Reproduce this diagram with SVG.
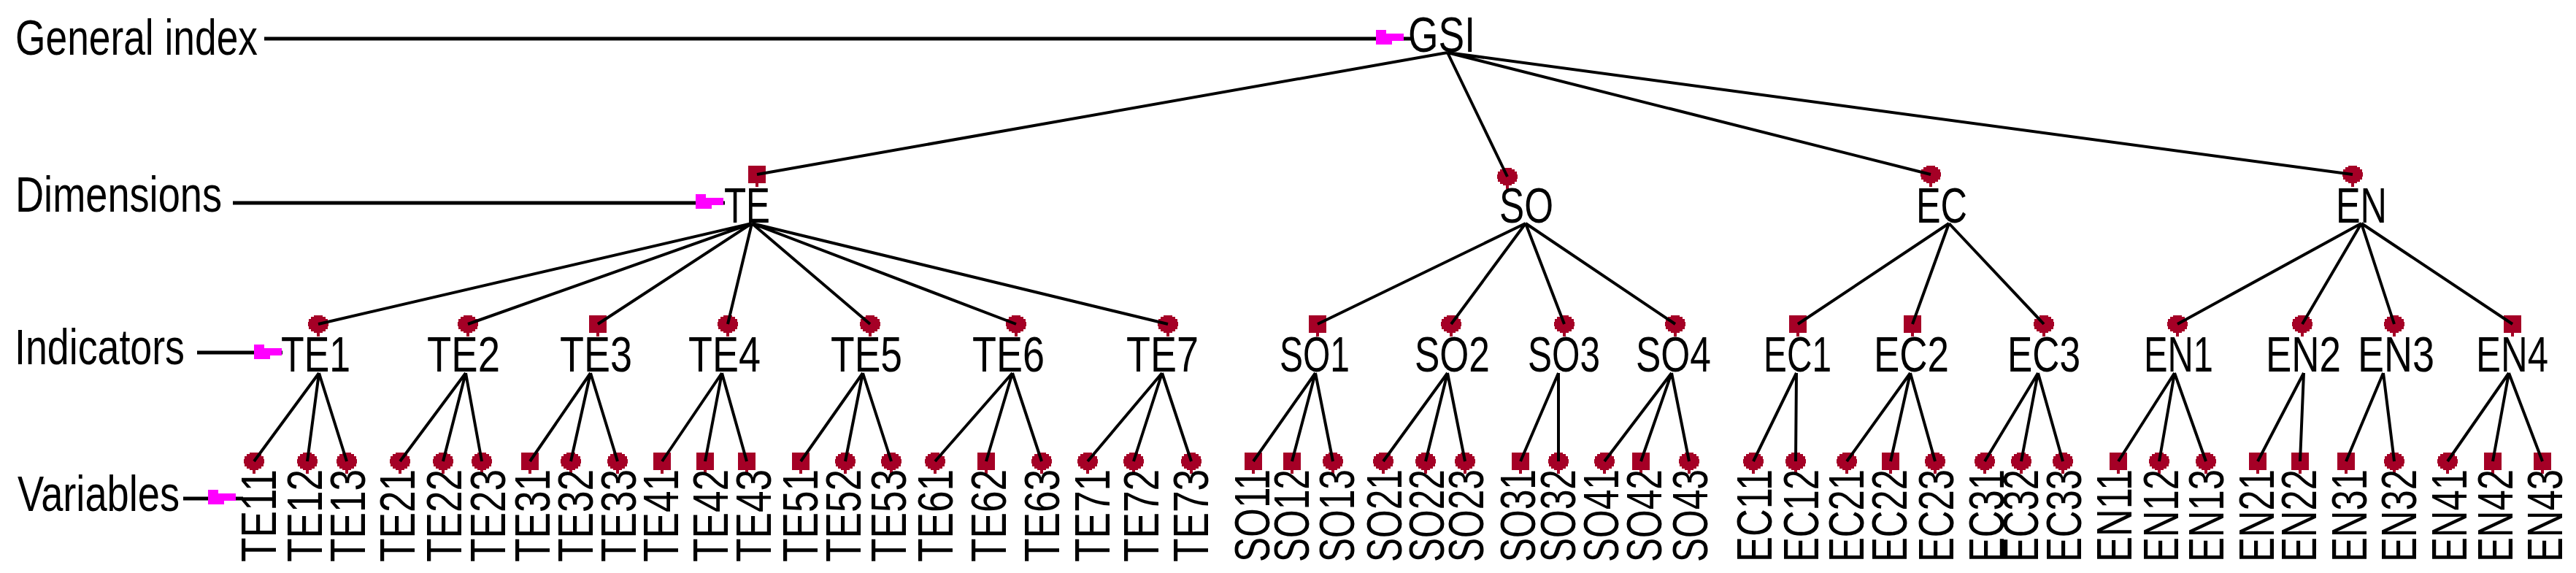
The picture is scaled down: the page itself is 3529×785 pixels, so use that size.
<svg xmlns="http://www.w3.org/2000/svg" width="3529" height="785" viewBox="0 0 3529 785">
<style>
.t{font-family:"Liberation Sans",Arial,sans-serif;font-size:69px;fill:#000}
.m{fill:#A50026}
.c{stroke:#000;stroke-width:4;fill:none}
.l{stroke:#000;stroke-width:5;fill:none}
.f{fill:#FF00FF}
</style>
<defs>
<path id="mr" d="M-6,-12 H6 V-10 H10 V-7 H13 V-3 H14 V3 H13 V7 H10 V10 H6 V12 H2 V17 H-2 V12 H-6 V10 H-10 V7 H-13 V3 H-14 V-3 H-13 V-7 H-10 V-10 H-6 Z"/>
<path id="ms" d="M-12,-12 H12 V12 H2 V17 H-2 V12 H-12 Z"/>
<path id="fl" d="M0,0 H14 V5 H38 V15 H22 V20 H0 Z"/>
</defs>
<rect width="3529" height="785" fill="#fff"/>

<g id="labels">
<text class="t" x="21" y="75" textLength="332" lengthAdjust="spacingAndGlyphs">General index</text>
<text class="t" x="21" y="290" textLength="283" lengthAdjust="spacingAndGlyphs">Dimensions</text>
<text class="t" x="20" y="499" textLength="233" lengthAdjust="spacingAndGlyphs">Indicators</text>
<text class="t" x="24" y="700" textLength="222" lengthAdjust="spacingAndGlyphs">Variables</text>
</g>

<g id="nodes">
<g id="GSI"><text class="t" x="1929" y="71" textLength="92" lengthAdjust="spacingAndGlyphs">GSI</text></g>
<g id="TE"><use href="#ms" class="m" x="1037" y="239"/><text class="t" x="992" y="305" textLength="63" lengthAdjust="spacingAndGlyphs">TE</text></g>
<g id="SO"><use href="#mr" class="m" x="2065" y="242"/><text class="t" x="2054" y="305" textLength="74" lengthAdjust="spacingAndGlyphs">SO</text></g>
<g id="EC"><use href="#mr" class="m" x="2645" y="239"/><text class="t" x="2625" y="305" textLength="70" lengthAdjust="spacingAndGlyphs">EC</text></g>
<g id="EN"><use href="#mr" class="m" x="3223" y="239"/><text class="t" x="3200" y="305" textLength="70" lengthAdjust="spacingAndGlyphs">EN</text></g>

<g id="TE1"><use href="#mr" class="m" x="436" y="444"/><text class="t" x="385" y="509" textLength="95" lengthAdjust="spacingAndGlyphs">TE1</text></g>
<g id="TE2"><use href="#mr" class="m" x="641" y="444"/><text class="t" x="585" y="509" textLength="100" lengthAdjust="spacingAndGlyphs">TE2</text></g>
<g id="TE3"><use href="#ms" class="m" x="819" y="444"/><text class="t" x="767" y="509" textLength="99" lengthAdjust="spacingAndGlyphs">TE3</text></g>
<g id="TE4"><use href="#mr" class="m" x="997" y="444"/><text class="t" x="943" y="509" textLength="99" lengthAdjust="spacingAndGlyphs">TE4</text></g>
<g id="TE5"><use href="#mr" class="m" x="1192" y="444"/><text class="t" x="1138" y="509" textLength="98" lengthAdjust="spacingAndGlyphs">TE5</text></g>
<g id="TE6"><use href="#mr" class="m" x="1392" y="444"/><text class="t" x="1332" y="509" textLength="99" lengthAdjust="spacingAndGlyphs">TE6</text></g>
<g id="TE7"><use href="#mr" class="m" x="1600" y="444"/><text class="t" x="1543" y="509" textLength="99" lengthAdjust="spacingAndGlyphs">TE7</text></g>
<g id="SO1"><use href="#ms" class="m" x="1805" y="444"/><text class="t" x="1753" y="509" textLength="96" lengthAdjust="spacingAndGlyphs">SO1</text></g>
<g id="SO2"><use href="#mr" class="m" x="1988" y="444"/><text class="t" x="1938" y="509" textLength="103" lengthAdjust="spacingAndGlyphs">SO2</text></g>
<g id="SO3"><use href="#mr" class="m" x="2143" y="444"/><text class="t" x="2093" y="509" textLength="99" lengthAdjust="spacingAndGlyphs">SO3</text></g>
<g id="SO4"><use href="#mr" class="m" x="2295" y="444"/><text class="t" x="2241" y="509" textLength="103" lengthAdjust="spacingAndGlyphs">SO4</text></g>
<g id="EC1"><use href="#ms" class="m" x="2463" y="444"/><text class="t" x="2416" y="509" textLength="93" lengthAdjust="spacingAndGlyphs">EC1</text></g>
<g id="EC2"><use href="#ms" class="m" x="2620" y="444"/><text class="t" x="2567" y="509" textLength="103" lengthAdjust="spacingAndGlyphs">EC2</text></g>
<g id="EC3"><use href="#mr" class="m" x="2800" y="444"/><text class="t" x="2750" y="509" textLength="100" lengthAdjust="spacingAndGlyphs">EC3</text></g>
<g id="EN1"><use href="#mr" class="m" x="2983" y="444"/><text class="t" x="2937" y="509" textLength="95" lengthAdjust="spacingAndGlyphs">EN1</text></g>
<g id="EN2"><use href="#mr" class="m" x="3154" y="444"/><text class="t" x="3104" y="509" textLength="103" lengthAdjust="spacingAndGlyphs">EN2</text></g>
<g id="EN3"><use href="#mr" class="m" x="3280" y="444"/><text class="t" x="3230" y="509" textLength="105" lengthAdjust="spacingAndGlyphs">EN3</text></g>
<g id="EN4"><use href="#ms" class="m" x="3442" y="444"/><text class="t" x="3392" y="509" textLength="99" lengthAdjust="spacingAndGlyphs">EN4</text></g>

<g id="TE11"><use href="#mr" class="m" x="348" y="632"/><text class="t" transform="translate(378,770) rotate(-90)" textLength="127" lengthAdjust="spacingAndGlyphs">TE11</text></g>
<g id="TE12"><use href="#mr" class="m" x="421" y="632"/><text class="t" transform="translate(441,770) rotate(-90)" textLength="127" lengthAdjust="spacingAndGlyphs">TE12</text></g>
<g id="TE13"><use href="#mr" class="m" x="475" y="632"/><text class="t" transform="translate(500,770) rotate(-90)" textLength="127" lengthAdjust="spacingAndGlyphs">TE13</text></g>
<g id="TE21"><use href="#mr" class="m" x="548" y="632"/><text class="t" transform="translate(568,770) rotate(-90)" textLength="127" lengthAdjust="spacingAndGlyphs">TE21</text></g>
<g id="TE22"><use href="#mr" class="m" x="607" y="632"/><text class="t" transform="translate(632,770) rotate(-90)" textLength="127" lengthAdjust="spacingAndGlyphs">TE22</text></g>
<g id="TE23"><use href="#mr" class="m" x="660" y="632"/><text class="t" transform="translate(692,770) rotate(-90)" textLength="127" lengthAdjust="spacingAndGlyphs">TE23</text></g>
<g id="TE31"><use href="#ms" class="m" x="726" y="632"/><text class="t" transform="translate(753,770) rotate(-90)" textLength="127" lengthAdjust="spacingAndGlyphs">TE31</text></g>
<g id="TE32"><use href="#mr" class="m" x="782" y="632"/><text class="t" transform="translate(812,770) rotate(-90)" textLength="127" lengthAdjust="spacingAndGlyphs">TE32</text></g>
<g id="TE33"><use href="#mr" class="m" x="846" y="632"/><text class="t" transform="translate(871,770) rotate(-90)" textLength="127" lengthAdjust="spacingAndGlyphs">TE33</text></g>
<g id="TE41"><use href="#ms" class="m" x="907" y="632"/><text class="t" transform="translate(929,770) rotate(-90)" textLength="127" lengthAdjust="spacingAndGlyphs">TE41</text></g>
<g id="TE42"><use href="#ms" class="m" x="966" y="632"/><text class="t" transform="translate(997,770) rotate(-90)" textLength="127" lengthAdjust="spacingAndGlyphs">TE42</text></g>
<g id="TE43"><use href="#ms" class="m" x="1023" y="632"/><text class="t" transform="translate(1056,770) rotate(-90)" textLength="127" lengthAdjust="spacingAndGlyphs">TE43</text></g>
<g id="TE51"><use href="#ms" class="m" x="1097" y="632"/><text class="t" transform="translate(1120,770) rotate(-90)" textLength="127" lengthAdjust="spacingAndGlyphs">TE51</text></g>
<g id="TE52"><use href="#mr" class="m" x="1158" y="632"/><text class="t" transform="translate(1179,770) rotate(-90)" textLength="127" lengthAdjust="spacingAndGlyphs">TE52</text></g>
<g id="TE53"><use href="#mr" class="m" x="1221" y="632"/><text class="t" transform="translate(1241,770) rotate(-90)" textLength="127" lengthAdjust="spacingAndGlyphs">TE53</text></g>
<g id="TE61"><use href="#mr" class="m" x="1281" y="632"/><text class="t" transform="translate(1305,770) rotate(-90)" textLength="127" lengthAdjust="spacingAndGlyphs">TE61</text></g>
<g id="TE62"><use href="#ms" class="m" x="1351" y="632"/><text class="t" transform="translate(1378,770) rotate(-90)" textLength="127" lengthAdjust="spacingAndGlyphs">TE62</text></g>
<g id="TE63"><use href="#mr" class="m" x="1427" y="632"/><text class="t" transform="translate(1451,770) rotate(-90)" textLength="127" lengthAdjust="spacingAndGlyphs">TE63</text></g>
<g id="TE71"><use href="#mr" class="m" x="1490" y="632"/><text class="t" transform="translate(1520,770) rotate(-90)" textLength="127" lengthAdjust="spacingAndGlyphs">TE71</text></g>
<g id="TE72"><use href="#mr" class="m" x="1553" y="632"/><text class="t" transform="translate(1587,770) rotate(-90)" textLength="127" lengthAdjust="spacingAndGlyphs">TE72</text></g>
<g id="TE73"><use href="#mr" class="m" x="1632" y="632"/><text class="t" transform="translate(1655,770) rotate(-90)" textLength="127" lengthAdjust="spacingAndGlyphs">TE73</text></g>
<g id="SO11"><use href="#ms" class="m" x="1717" y="632"/><text class="t" transform="translate(1739,770) rotate(-90)" textLength="127" lengthAdjust="spacingAndGlyphs">SO11</text></g>
<g id="SO12"><use href="#ms" class="m" x="1770" y="632"/><text class="t" transform="translate(1793,770) rotate(-90)" textLength="127" lengthAdjust="spacingAndGlyphs">SO12</text></g>
<g id="SO13"><use href="#mr" class="m" x="1826" y="632"/><text class="t" transform="translate(1855,770) rotate(-90)" textLength="127" lengthAdjust="spacingAndGlyphs">SO13</text></g>
<g id="SO21"><use href="#mr" class="m" x="1895" y="632"/><text class="t" transform="translate(1920,770) rotate(-90)" textLength="127" lengthAdjust="spacingAndGlyphs">SO21</text></g>
<g id="SO22"><use href="#mr" class="m" x="1953" y="632"/><text class="t" transform="translate(1978,770) rotate(-90)" textLength="127" lengthAdjust="spacingAndGlyphs">SO22</text></g>
<g id="SO23"><use href="#mr" class="m" x="2007" y="632"/><text class="t" transform="translate(2032,770) rotate(-90)" textLength="127" lengthAdjust="spacingAndGlyphs">SO23</text></g>
<g id="SO31"><use href="#ms" class="m" x="2083" y="632"/><text class="t" transform="translate(2103,770) rotate(-90)" textLength="127" lengthAdjust="spacingAndGlyphs">SO31</text></g>
<g id="SO32"><use href="#mr" class="m" x="2135" y="632"/><text class="t" transform="translate(2158,770) rotate(-90)" textLength="127" lengthAdjust="spacingAndGlyphs">SO32</text></g>
<g id="SO41"><use href="#mr" class="m" x="2198" y="632"/><text class="t" transform="translate(2217,770) rotate(-90)" textLength="127" lengthAdjust="spacingAndGlyphs">SO41</text></g>
<g id="SO42"><use href="#ms" class="m" x="2248" y="632"/><text class="t" transform="translate(2276,770) rotate(-90)" textLength="127" lengthAdjust="spacingAndGlyphs">SO42</text></g>
<g id="SO43"><use href="#mr" class="m" x="2314" y="632"/><text class="t" transform="translate(2339,770) rotate(-90)" textLength="127" lengthAdjust="spacingAndGlyphs">SO43</text></g>
<g id="EC11"><use href="#mr" class="m" x="2402" y="632"/><text class="t" transform="translate(2427,770) rotate(-90)" textLength="127" lengthAdjust="spacingAndGlyphs">EC11</text></g>
<g id="EC12"><use href="#mr" class="m" x="2460" y="632"/><text class="t" transform="translate(2491,770) rotate(-90)" textLength="127" lengthAdjust="spacingAndGlyphs">EC12</text></g>
<g id="EC21"><use href="#mr" class="m" x="2530" y="632"/><text class="t" transform="translate(2553,770) rotate(-90)" textLength="127" lengthAdjust="spacingAndGlyphs">EC21</text></g>
<g id="EC22"><use href="#ms" class="m" x="2590" y="632"/><text class="t" transform="translate(2612,770) rotate(-90)" textLength="127" lengthAdjust="spacingAndGlyphs">EC22</text></g>
<g id="EC23"><use href="#mr" class="m" x="2651" y="632"/><text class="t" transform="translate(2676,770) rotate(-90)" textLength="127" lengthAdjust="spacingAndGlyphs">EC23</text></g>
<g id="EC31"><use href="#mr" class="m" x="2719" y="632"/><text class="t" transform="translate(2745,770) rotate(-90)" textLength="127" lengthAdjust="spacingAndGlyphs">EC31</text></g>
<g id="EC32"><use href="#mr" class="m" x="2769" y="632"/><text class="t" transform="translate(2792,770) rotate(-90)" textLength="127" lengthAdjust="spacingAndGlyphs">EC32</text></g>
<g id="EC33"><use href="#mr" class="m" x="2826" y="632"/><text class="t" transform="translate(2851,770) rotate(-90)" textLength="127" lengthAdjust="spacingAndGlyphs">EC33</text></g>
<g id="EN11"><use href="#ms" class="m" x="2902" y="632"/><text class="t" transform="translate(2920,770) rotate(-90)" textLength="127" lengthAdjust="spacingAndGlyphs">EN11</text></g>
<g id="EN12"><use href="#mr" class="m" x="2958" y="632"/><text class="t" transform="translate(2984,770) rotate(-90)" textLength="127" lengthAdjust="spacingAndGlyphs">EN12</text></g>
<g id="EN13"><use href="#mr" class="m" x="3022" y="632"/><text class="t" transform="translate(3046,770) rotate(-90)" textLength="127" lengthAdjust="spacingAndGlyphs">EN13</text></g>
<g id="EN21"><use href="#ms" class="m" x="3093" y="632"/><text class="t" transform="translate(3115,770) rotate(-90)" textLength="127" lengthAdjust="spacingAndGlyphs">EN21</text></g>
<g id="EN22"><use href="#ms" class="m" x="3151" y="632"/><text class="t" transform="translate(3173,770) rotate(-90)" textLength="127" lengthAdjust="spacingAndGlyphs">EN22</text></g>
<g id="EN31"><use href="#ms" class="m" x="3214" y="632"/><text class="t" transform="translate(3242,770) rotate(-90)" textLength="127" lengthAdjust="spacingAndGlyphs">EN31</text></g>
<g id="EN32"><use href="#mr" class="m" x="3280" y="632"/><text class="t" transform="translate(3310,770) rotate(-90)" textLength="127" lengthAdjust="spacingAndGlyphs">EN32</text></g>
<g id="EN41"><use href="#mr" class="m" x="3353" y="632"/><text class="t" transform="translate(3379,770) rotate(-90)" textLength="127" lengthAdjust="spacingAndGlyphs">EN41</text></g>
<g id="EN42"><use href="#ms" class="m" x="3415" y="632"/><text class="t" transform="translate(3442,770) rotate(-90)" textLength="127" lengthAdjust="spacingAndGlyphs">EN42</text></g>
<g id="EN43"><use href="#ms" class="m" x="3483" y="632"/><text class="t" transform="translate(3510,770) rotate(-90)" textLength="127" lengthAdjust="spacingAndGlyphs">EN43</text></g>
</g>

<g id="connectors">
<path class="l" d="M362,53H1935M319,278H993M270,483H387M251,683H333"/>
<path class="c" d="M1983,72L1037,239M1983,72L2065,242M1983,72L2645,239M1983,72L3223,239"/>
<path class="c" d="M1030,306L436,444M1030,306L641,444M1030,306L819,444M1030,306L997,444M1030,306L1192,444M1030,306L1392,444M1030,306L1600,444"/>
<path class="c" d="M2090,306L1805,444M2090,306L1988,444M2090,306L2143,444M2090,306L2295,444"/>
<path class="c" d="M2670,306L2463,444M2670,306L2620,444M2670,306L2800,444"/>
<path class="c" d="M3235,306L2983,444M3235,306L3154,444M3235,306L3280,444M3235,306L3442,444"/>
<path class="c" d="M437,511L348,632M437,511L421,632M437,511L475,632M638,511L548,632M638,511L607,632M638,511L660,632M809,511L726,632M809,511L782,632M809,511L846,632M989,511L907,632M989,511L966,632M989,511L1023,632M1182,511L1097,632M1182,511L1158,632M1182,511L1221,632M1387,511L1281,632M1387,511L1351,632M1387,511L1427,632M1592,511L1490,632M1592,511L1553,632M1592,511L1632,632"/>
<path class="c" d="M1802,511L1717,632M1802,511L1770,632M1802,511L1826,632M1983,511L1895,632M1983,511L1953,632M1983,511L2007,632M2135,511L2083,632M2135,511L2135,632M2290,511L2198,632M2290,511L2248,632M2290,511L2314,632"/>
<path class="c" d="M2461,511L2402,632M2461,511L2460,632M2617,511L2530,632M2617,511L2590,632M2617,511L2651,632M2792,511L2719,632M2792,511L2769,632M2792,511L2826,632"/>
<path class="c" d="M2979,511L2902,632M2979,511L2958,632M2979,511L3022,632M3156,511L3093,632M3156,511L3151,632M3265,511L3214,632M3265,511L3280,632M3437,511L3353,632M3437,511L3415,632M3437,511L3483,632"/>
</g>

<g id="flags">
<use href="#fl" class="f" x="1885" y="41"/>
<use href="#fl" class="f" x="953" y="266"/>
<use href="#fl" class="f" x="348" y="472"/>
<use href="#fl" class="f" x="285" y="671"/>
</g>
</svg>
